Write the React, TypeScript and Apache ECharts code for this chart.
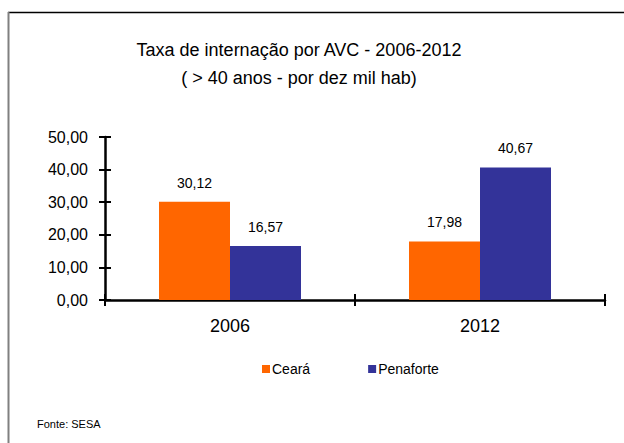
import React, { useEffect, useRef } from "react";
import * as echarts from "echarts";

const categories = ["2006", "2012"];
const cearaValues = [30.12, 17.98];
const penaforteValues = [16.57, 40.67];
const seriesNames = ["Ceará", "Penaforte"];
const titleLines = ["Taxa de internação por AVC - 2006-2012", "( > 40 anos - por dez mil hab)"];
const sourceText = "Fonte: SESA";

const fmt = (v: number) => v.toFixed(2).replace(".", ",");
const FONT = "'Liberation Sans', Arial, sans-serif";

export default function App() {
  const ref = useRef<HTMLDivElement>(null);
  useEffect(() => {
    if (!ref.current) return;
    const chart = echarts.init(ref.current, undefined, { renderer: "svg" });
    const axisLine = { show: true, lineStyle: { color: "#000", width: 2.5 } };
    chart.setOption({
      animation: false,
      backgroundColor: "#fff",
      textStyle: { fontFamily: FONT },
      title: {
        text: titleLines.join("\n"),
        left: 294,
        textAlign: "center",
        top: 31,
        textStyle: { fontSize: 18, fontWeight: "normal", color: "#000", lineHeight: 28, fontFamily: FONT },
      },
      legend: {
        left: 257,
        top: 357,
        icon: "rect",
        itemWidth: 8,
        itemHeight: 8,
        itemGap: 58,
        textStyle: { fontSize: 14, color: "#000", padding: [0, 0, 0, -3], fontFamily: FONT },
        data: seriesNames,
      },
      grid: { left: 105, right: 19, top: 137, bottom: 143, containLabel: false },
      xAxis: [
        {
          type: "category",
          data: categories,
          axisLine,
          axisTick: { show: true, length: 6, lineStyle: { color: "#000", width: 2 } },
          axisLabel: { fontSize: 18, color: "#000", margin: 17, fontFamily: FONT },
          splitLine: { show: false },
        },
        {
          type: "category",
          data: categories,
          position: "bottom",
          axisLine: { show: false },
          axisTick: { show: true, inside: true, length: 6, lineStyle: { color: "#000", width: 2 } },
          axisLabel: { show: false },
        },
      ],
      yAxis: [
        {
          type: "value",
          min: 0,
          max: 50,
          interval: 10,
          axisLine,
          axisTick: { show: true, length: 6, lineStyle: { color: "#000", width: 2 } },
          axisLabel: { fontSize: 16, color: "#000", margin: 17, formatter: (v: number) => fmt(v), fontFamily: FONT },
          splitLine: { show: false },
        },
        {
          type: "value",
          min: 0,
          max: 50,
          interval: 10,
          position: "left",
          axisLine: { show: false },
          axisTick: { show: true, inside: true, length: 6, lineStyle: { color: "#000", width: 2 } },
          axisLabel: { show: false },
          splitLine: { show: false },
        },
      ],
      series: [
        {
          name: seriesNames[0],
          type: "bar",
          data: cearaValues,
          barWidth: 71,
          barGap: "0%",
          itemStyle: { color: "#FF6600" },
          label: { show: true, position: "top", distance: 12, fontSize: 14, color: "#000", formatter: (p: any) => fmt(p.value), fontFamily: FONT },
        },
        {
          name: seriesNames[1],
          type: "bar",
          data: penaforteValues,
          barWidth: 71,
          barGap: "0%",
          itemStyle: { color: "#333399" },
          label: { show: true, position: "top", distance: 12, fontSize: 14, color: "#000", formatter: (p: any) => fmt(p.value), fontFamily: FONT },
        },
      ],
      graphic: [
        { type: "line", shape: { x1: 8, y1: 12.5, x2: 624, y2: 12.5 }, style: { stroke: "#000", lineWidth: 1.5 } },
        { type: "line", shape: { x1: 8.5, y1: 12, x2: 8.5, y2: 443 }, style: { stroke: "#808080", lineWidth: 2 } },
        {
          type: "text",
          left: 37,
          top: 418,
          style: { text: sourceText, fontSize: 11, fill: "#000", fontFamily: FONT },
        },
      ],
    });
    return () => chart.dispose();
  }, []);
  return <div ref={ref} style={{ position: "fixed", left: 0, top: 0, width: 624, height: 443 }} />;
}
